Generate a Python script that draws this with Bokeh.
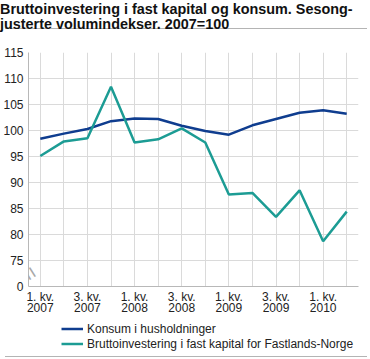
from bokeh.plotting import figure
from bokeh.models import FixedTicker, Legend, LegendItem, Label, Div, Range1d
from bokeh.layouts import column
from bokeh.embed import file_html
from bokeh.resources import INLINE
import math

# ---- data ----
quarters = ["2007K1", "2007K2", "2007K3", "2007K4",
            "2008K1", "2008K2", "2008K3", "2008K4",
            "2009K1", "2009K2", "2009K3", "2009K4",
            "2010K1", "2010K2"]
konsum = [98.4, 99.4, 100.3, 101.8, 102.3, 102.2, 100.9, 99.9,
          99.2, 101.0, 102.2, 103.4, 103.9, 103.2]
brutto = [95.1, 97.9, 98.5, 108.4, 97.7, 98.3, 100.4, 97.7,
          87.7, 88.0, 83.4, 88.5, 78.7, 84.4]
x_tick_labels = ["1. kv.\n2007", "3. kv.\n2007", "1. kv.\n2008", "3. kv.\n2008",
                 "1. kv.\n2009", "3. kv.\n2009", "1. kv.\n2010"]
y_ticks = [70, 75, 80, 85, 90, 95, 100, 105, 110, 115]
y_tick_labels = ["0", "75", "80", "85", "90", "95", "100", "105", "110", "115"]
series_names = ["Konsum i husholdninger",
                "Bruttoinvestering i fast kapital for Fastlands-Norge"]
title_lines = ["Bruttoinvestering i fast kapital og konsum. Sesong-",
               "justerte volumindekser. 2007=100"]

FONT = "Liberation Sans"
BLUE = "#0f3d8f"
TEAL = "#1c9c94"

x = list(range(len(quarters)))
x_ticks = x[::2]

p = figure(width=362, height=286, output_backend="svg", toolbar_location=None,
           x_range=Range1d(-0.5, len(quarters) - 0.5), y_range=Range1d(70, 115),
           min_border_left=24, min_border_right=4, min_border_top=18, min_border_bottom=34)
p.outline_line_color = None
p.background_fill_color = "white"
p.border_fill_color = None

# axes
p.yaxis.ticker = FixedTicker(ticks=y_ticks)
p.yaxis.major_label_overrides = {t: l for t, l in zip(y_ticks, y_tick_labels)}
p.xaxis.ticker = FixedTicker(ticks=x_ticks)
p.xaxis.major_label_overrides = {t: l for t, l in zip(x_ticks, x_tick_labels)}
for ax in (p.xaxis[0], p.yaxis[0]):
    ax.axis_line_color = "#b8b8b8"
    ax.axis_line_width = 1
    ax.major_tick_line_color = None
    ax.minor_tick_line_color = None
    ax.major_tick_out = 0
    ax.major_tick_in = 0
    ax.major_label_text_font = FONT
    ax.major_label_text_font_size = "12px"
    ax.major_label_text_color = "#222222"
p.yaxis.major_label_standoff = 5
p.xaxis.major_label_standoff = 3
p.xaxis.major_label_text_line_height = 0.85

p.xgrid.ticker = FixedTicker(ticks=x)
p.ygrid.ticker = FixedTicker(ticks=y_ticks[1:])
p.xgrid.grid_line_color = "#dadada"
p.ygrid.grid_line_color = "#dadada"

r1 = p.line(x, konsum, line_color=BLUE, line_width=2.5)
r2 = p.line(x, brutto, line_color=TEAL, line_width=2.5)

# axis break marker
brk = Label(x=-0.42, y=72.5, text="=", text_font=FONT, text_font_size="22px",
            text_color="#a8a8a8", text_align="center", text_baseline="middle",
            angle=-math.radians(58))
p.add_layout(brk)

# legend strip below the chart (same series, drawn outside this strip's view)
pl = figure(width=362, height=31, output_backend="svg", toolbar_location=None,
            x_range=Range1d(-100, -99), y_range=Range1d(-100, -99),
            min_border_left=0, min_border_right=0, min_border_top=0, min_border_bottom=0)
pl.axis.visible = False
pl.grid.visible = False
pl.outline_line_color = None
pl.border_fill_color = None
pl.background_fill_color = None
k1 = pl.line(x, konsum, line_color=BLUE, line_width=2.5)
k2 = pl.line(x, brutto, line_color=TEAL, line_width=2.5)

legend = Legend(items=[LegendItem(label=series_names[0], renderers=[k1]),
                       LegendItem(label=series_names[1], renderers=[k2])],
                location=(33, 0), orientation="vertical")
legend.padding = 0
legend.margin = 0
legend.spacing = 0
legend.border_line_color = None
legend.background_fill_alpha = 0
legend.label_text_font = FONT
legend.label_text_font_size = "12px"
legend.label_text_color = "#222222"
legend.label_height = 15
legend.glyph_height = 15
legend.glyph_width = 22
legend.label_standoff = 4
pl.add_layout(legend)

title_div = Div(text=('<div style="position:relative;top:-3px;left:-5px;width:366px;'
                      'font-family:\'Liberation Sans\';font-weight:bold;font-size:14.4px;'
                      'line-height:14.5px;color:#111;white-space:nowrap;">'
                      + title_lines[0] + '<br>' + title_lines[1] + '</div>'),
                width=362, height=24,
                styles={"border-bottom": "1px solid #b4b4b4"})
bottom_div = Div(text="", width=362, height=1, styles={"background-color": "#b4b4b4"})

root = column(title_div, p, pl, bottom_div, spacing=0)

open("out.html", "w").write(file_html(root, INLINE))
